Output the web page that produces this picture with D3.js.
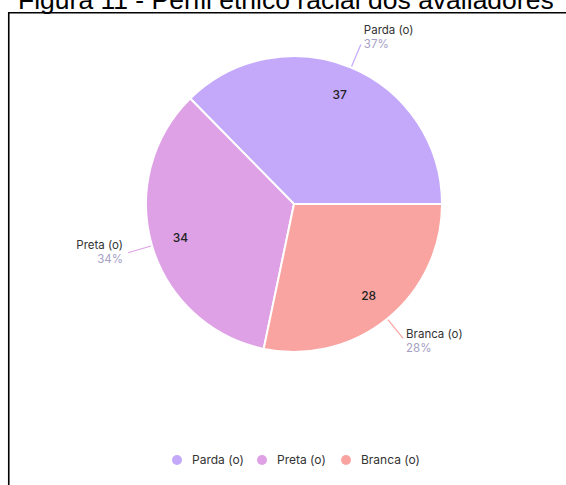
<!DOCTYPE html>
<html>
<head>
<meta charset="utf-8">
<script src="https://cdn.jsdelivr.net/npm/d3@7"></script>
<style>
  html, body { margin: 0; padding: 0; background: #fff; }
  svg { display: block; }
</style>
</head>
<body>
<svg id="chart" width="566" height="485"></svg>
<script>
// Perfil étnico racial: counts per group
const categories = ["Parda (o)", "Preta (o)", "Branca (o)"];
const counts = [37, 34, 28];
const percentLabels = ["37%", "34%", "28%"];
const colors = ["#c4a9fb", "#dea1e6", "#f9a4a0"];

const titleText = "Figura 11 - Perfil étnico racial dos avaliadores";

const svg = d3.select("#chart");
const W = 566, H = 485;

// title, partly above the top edge
svg.append("text")
  .attr("x", 18).attr("y", 8.5)
  .attr("font-family", "Liberation Sans, Arial, sans-serif")
  .attr("font-size", 26.5)
  .attr("fill", "#000")
  .text(titleText);

// frame: top and left rules
svg.append("path")
  .attr("d", `M8.75,${H} V12.75 H${W}`)
  .attr("fill", "none")
  .attr("stroke", "#000")
  .attr("stroke-width", 1.6);

const cx = 294, cy = 204, R = 148;
const g = svg.append("g").attr("transform", `translate(${cx},${cy})`);

const data = categories.map((c, i) => ({ name: c, value: counts[i], pct: percentLabels[i], color: colors[i] }));

// slices run counter-clockwise from 3 o'clock
const pie = d3.pie()
  .value(d => d.value)
  .sort(null)
  .startAngle(Math.PI / 2)
  .endAngle(Math.PI / 2 - 2 * Math.PI);

const arcs = pie(data);
const arc = d3.arc().innerRadius(0).outerRadius(R);
const labelArc = d3.arc().innerRadius(R * 0.8).outerRadius(R * 0.8);

g.selectAll("path.slice")
  .data(arcs)
  .join("path")
  .attr("class", "slice")
  .attr("d", arc)
  .attr("fill", d => d.data.color)
  .attr("stroke", "#fff")
  .attr("stroke-width", 2);

// value inside each slice
g.selectAll("text.val")
  .data(arcs)
  .join("text")
  .attr("class", "val")
  .attr("transform", d => `translate(${labelArc.centroid(d)})`)
  .attr("text-anchor", "middle")
  .attr("dy", "0.35em")
  .attr("font-family", "Inter, sans-serif")
  .attr("font-size", 12)
  .attr("font-weight", 500)
  .attr("fill", "#222")
  .text(d => d.data.value);

// leader lines and outside labels
const midA = d => (d.startAngle + d.endAngle) / 2;
const pt = (a, r) => [Math.sin(a) * r, -Math.cos(a) * r];

arcs.forEach(d => {
  const a = midA(d);
  const p1 = pt(a, R + 1), p2 = pt(a, R + 25);
  g.append("line")
    .attr("x1", p1[0]).attr("y1", p1[1])
    .attr("x2", p2[0]).attr("y2", p2[1])
    .attr("stroke", d.data.color)
    .attr("stroke-width", 1.2);
  const right = Math.sin(a) >= 0;
  const tx = p2[0] + (right ? 3 : -5);
  const anchor = right ? "start" : "end";
  // label block shifts up for upper slices, down for lower ones
  const base = p2[1] - 5 - 5.9 * Math.cos(a);
  g.append("text")
    .attr("x", tx).attr("y", base)
    .attr("text-anchor", anchor)
    .attr("font-family", "Inter, sans-serif")
    .attr("font-size", 11.5)
    .attr("fill", "#333")
    .text(d.data.name);
  g.append("text")
    .attr("x", tx).attr("y", base + 14)
    .attr("text-anchor", anchor)
    .attr("font-family", "Inter, sans-serif")
    .attr("font-size", 11.5)
    .attr("fill", "#a5a0c4")
    .text(d.data.pct);
});

// legend
const legendX = [177, 262, 346];
const lg = svg.append("g");
data.forEach((d, i) => {
  lg.append("circle")
    .attr("cx", legendX[i]).attr("cy", 460).attr("r", 5)
    .attr("fill", d.color);
  lg.append("text")
    .attr("x", legendX[i] + 15).attr("y", 460)
    .attr("dy", "0.35em")
    .attr("font-family", "Inter, sans-serif")
    .attr("font-size", 12)
    .attr("fill", "#333")
    .text(d.name);
});
</script>
</body>
</html>
